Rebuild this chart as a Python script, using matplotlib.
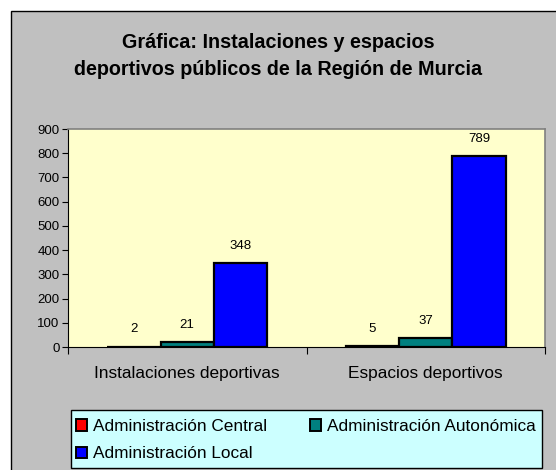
import matplotlib.pyplot as plt
from matplotlib.patches import Rectangle, Patch
import numpy as np

plt.rcParams['font.family'] = ['Liberation Sans', 'DejaVu Sans']

categorias = ['Instalaciones deportivas', 'Espacios deportivos']
series = ['Administración Central', 'Administración Autonómica', 'Administración Local']
central = [2, 5]
autonomica = [21, 37]
local = [348, 789]
colores = ['#FF0000', '#008080', '#0000FF']

fig = plt.figure(figsize=(5.56, 4.70), dpi=100)
fig.patch.set_facecolor('white')

# fondo gris del grafico
fondo = Rectangle((11 / 556, -0.05), 1.1, 0.05 + 459 / 470, transform=fig.transFigure,
                  facecolor='#C0C0C0', edgecolor='black', linewidth=1, zorder=-10)
fig.patches.append(fondo)

# caja de la leyenda
caja = Rectangle((71 / 556, 2 / 470), (542 - 71) / 556, 58 / 470, transform=fig.transFigure,
                 facecolor='#CCFFFF', edgecolor='black', linewidth=1, zorder=-5)
fig.patches.append(caja)

fig.text(0.5, 1 - 56 / 470, 'Gráfica: Instalaciones y espacios\ndeportivos públicos de la Región de Murcia',
         ha='center', va='center', fontsize=14.2, fontweight='bold', linespacing=1.55)

ax = fig.add_axes([68 / 556, 1 - 347 / 470, (545 - 68) / 556, (347 - 129) / 470])
ax.set_facecolor('#FFFFCC')

x = np.arange(len(categorias)) + 0.5
w = 0.223
valores = [central, autonomica, local]
for i, (vals, col) in enumerate(zip(valores, colores)):
    barras = ax.bar(x + (i - 1) * w, vals, w, color=col, edgecolor='black', linewidth=1.6, zorder=3)
    for b, v in zip(barras, vals):
        ax.annotate(str(v), (b.get_x() + b.get_width() / 2, v), xytext=(0, 8),
                    textcoords='offset points', ha='center', va='bottom', fontsize=9.5)

ax.set_xlim(0, 2)
ax.set_ylim(0, 900)
ax.set_yticks(range(0, 901, 100))
ax.tick_params(axis='y', labelsize=9.5, length=4, direction='out', pad=2)
ax.set_xticks([0, 1, 2])
ax.set_xticklabels([])
ax.set_xticks(x, minor=True)
ax.set_xticklabels(categorias, minor=True, fontsize=12.4)
ax.tick_params(axis='x', which='major', length=5, direction='out')
ax.tick_params(axis='x', which='minor', length=0, pad=14)

for s in ['top', 'right']:
    ax.spines[s].set_color('#808080')
    ax.spines[s].set_linewidth(1.2)
for s in ['left', 'bottom']:
    ax.spines[s].set_color('black')

handles = [Patch(facecolor=c, edgecolor='black', linewidth=1.4) for c in colores]
orden = [0, 2, 1]
leg = fig.legend([handles[k] for k in orden], [series[k] for k in orden], ncol=2,
                 loc='upper left', bbox_to_anchor=(76 / 556, 1 - 419 / 470),
                 fontsize=12.4, frameon=False,
                 handlelength=0.64, handleheight=0.64, handletextpad=0.35,
                 borderpad=0, labelspacing=0.72, columnspacing=2.5, borderaxespad=0)

fig.savefig('out.png', dpi=100)
